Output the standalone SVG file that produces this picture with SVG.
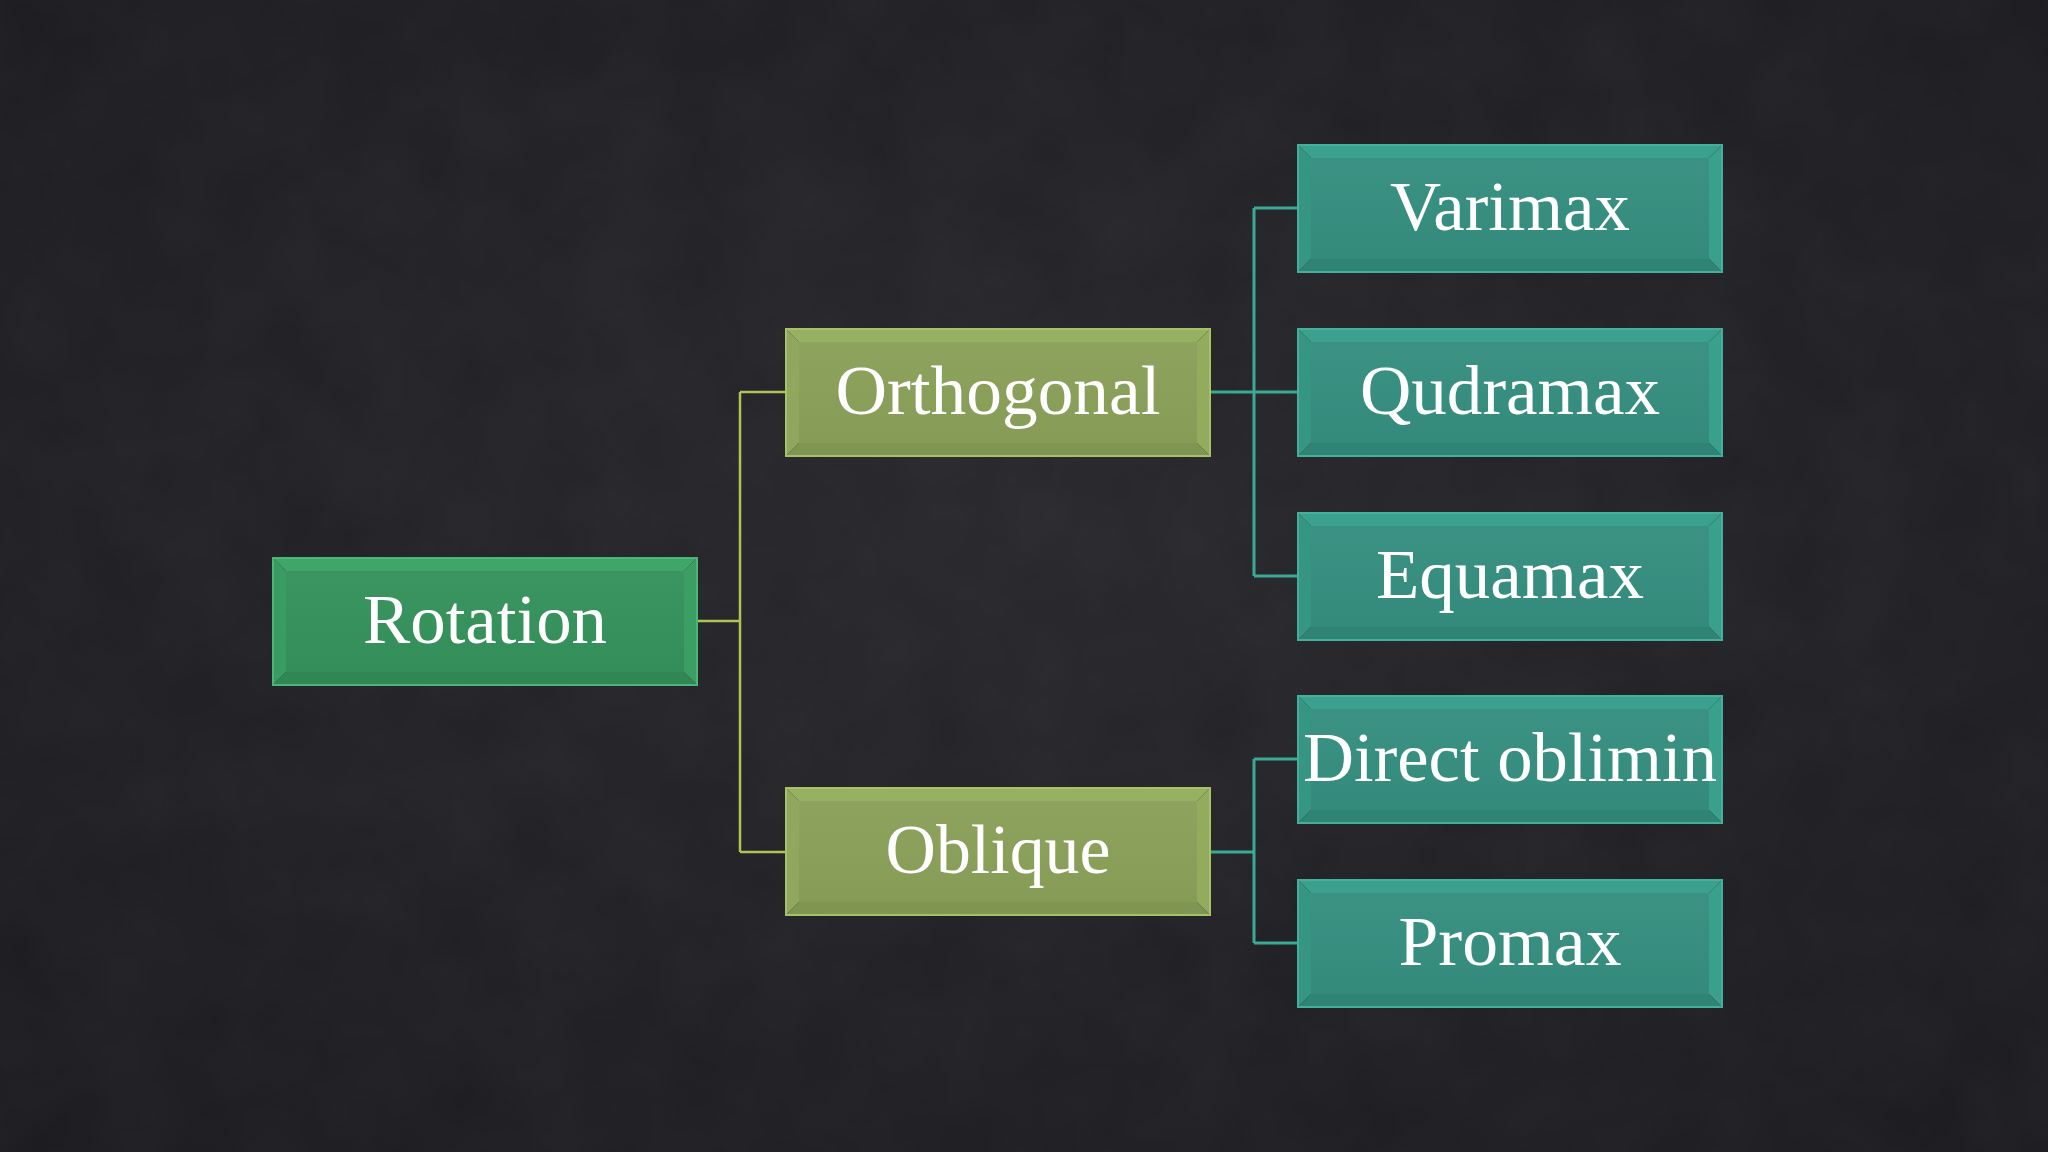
<svg xmlns="http://www.w3.org/2000/svg" width="2048" height="1152" viewBox="0 0 2048 1152">
<defs>
<radialGradient id="bg" cx="50%" cy="45%" r="75%">
<stop offset="0" stop-color="#28272b"/>
<stop offset="1" stop-color="#1b1a1e"/>
</radialGradient>
<filter id="noise" x="0" y="0" width="100%" height="100%">
<feTurbulence type="fractalNoise" baseFrequency="0.012" numOctaves="3" seed="4"/>
<feColorMatrix type="matrix" values="0 0 0 0 0.5 0 0 0 0 0.5 0 0 0 0 0.52 0 0 0 0.05 0"/>
</filter>
<linearGradient id="fg" x1="0" y1="0" x2="0" y2="1">
<stop offset="0" stop-color="#fff" stop-opacity="0.03"/>
<stop offset="1" stop-color="#000" stop-opacity="0.03"/>
</linearGradient>
</defs>
<style>
.lbl{font-family:"Liberation Serif","DejaVu Serif",serif;font-size:69px;fill:#ffffff;text-anchor:middle}
.g .face{fill:#35925b}.g .t{fill:#40a668}.g .l{fill:#3a9c62}.g .r{fill:#3b9e63}.g .b{fill:#318754}.g .bd{stroke:#4ab67a}
.o .face{fill:#8aa159}.o .t{fill:#97b163}.o .l{fill:#90a85d}.o .r{fill:#92ab5e}.o .b{fill:#7f9552}.o .bd{stroke:#a6c169}
.c .face{fill:#358f80}.c .t{fill:#3ba08e}.c .l{fill:#379584}.c .r{fill:#3a9f8d}.c .b{fill:#308475}.c .bd{stroke:#43b09b}
.bd{fill:none;stroke-width:2}
.cy{fill:none;stroke:#aec457;stroke-width:2.5}
.ct{fill:none;stroke:#3aaa96;stroke-width:3}
</style>
<rect width="2048" height="1152" fill="url(#bg)"/>
<rect width="2048" height="1152" filter="url(#noise)"/>

<g id="connectors">
<path class="cy" d="M698,621 H740 M740,392 V852 M740,392 H785 M740,852 H785"/>
<path class="ct" d="M1210,392 H1297 M1254,208 V576 M1254,208 H1297 M1254,576 H1297"/>
<path class="ct" d="M1210,852 H1254 M1254,759 V943 M1254,759 H1297 M1254,943 H1297"/>
</g>

<g id="rotation" class="g" transform="translate(272,557)">
<path class="t" d="M0,0 H426 L412,14 H14 Z"/><path class="l" d="M0,0 L14,14 V115 L0,129 Z"/><path class="r" d="M426,0 V129 L412,115 V14 Z"/><path class="b" d="M0,129 L14,115 H412 L426,129 Z"/>
<rect class="face" x="14" y="14" width="398" height="101"/><rect x="14" y="14" width="398" height="101" fill="url(#fg)"/>
<rect class="bd" x="1" y="1" width="424" height="127"/>
<text class="lbl" x="213" y="86" textLength="244" lengthAdjust="spacingAndGlyphs">Rotation</text>
</g>

<g id="orthogonal" class="o" transform="translate(785,328)">
<path class="t" d="M0,0 H426 L412,14 H14 Z"/><path class="l" d="M0,0 L14,14 V115 L0,129 Z"/><path class="r" d="M426,0 V129 L412,115 V14 Z"/><path class="b" d="M0,129 L14,115 H412 L426,129 Z"/>
<rect class="face" x="14" y="14" width="398" height="101"/><rect x="14" y="14" width="398" height="101" fill="url(#fg)"/>
<rect class="bd" x="1" y="1" width="424" height="127"/>
<text class="lbl" x="213" y="86" textLength="325" lengthAdjust="spacingAndGlyphs">Orthogonal</text>
</g>

<g id="oblique" class="o" transform="translate(785,787)">
<path class="t" d="M0,0 H426 L412,14 H14 Z"/><path class="l" d="M0,0 L14,14 V115 L0,129 Z"/><path class="r" d="M426,0 V129 L412,115 V14 Z"/><path class="b" d="M0,129 L14,115 H412 L426,129 Z"/>
<rect class="face" x="14" y="14" width="398" height="101"/><rect x="14" y="14" width="398" height="101" fill="url(#fg)"/>
<rect class="bd" x="1" y="1" width="424" height="127"/>
<text class="lbl" x="213" y="86" textLength="225" lengthAdjust="spacingAndGlyphs">Oblique</text>
</g>

<g id="varimax" class="c" transform="translate(1297,144)">
<path class="t" d="M0,0 H426 L412,14 H14 Z"/><path class="l" d="M0,0 L14,14 V115 L0,129 Z"/><path class="r" d="M426,0 V129 L412,115 V14 Z"/><path class="b" d="M0,129 L14,115 H412 L426,129 Z"/>
<rect class="face" x="14" y="14" width="398" height="101"/><rect x="14" y="14" width="398" height="101" fill="url(#fg)"/>
<rect class="bd" x="1" y="1" width="424" height="127"/>
<text class="lbl" x="213" y="86" textLength="240" lengthAdjust="spacingAndGlyphs">Varimax</text>
</g>

<g id="qudramax" class="c" transform="translate(1297,328)">
<path class="t" d="M0,0 H426 L412,14 H14 Z"/><path class="l" d="M0,0 L14,14 V115 L0,129 Z"/><path class="r" d="M426,0 V129 L412,115 V14 Z"/><path class="b" d="M0,129 L14,115 H412 L426,129 Z"/>
<rect class="face" x="14" y="14" width="398" height="101"/><rect x="14" y="14" width="398" height="101" fill="url(#fg)"/>
<rect class="bd" x="1" y="1" width="424" height="127"/>
<text class="lbl" x="213" y="86" textLength="300" lengthAdjust="spacingAndGlyphs">Qudramax</text>
</g>

<g id="equamax" class="c" transform="translate(1297,512)">
<path class="t" d="M0,0 H426 L412,14 H14 Z"/><path class="l" d="M0,0 L14,14 V115 L0,129 Z"/><path class="r" d="M426,0 V129 L412,115 V14 Z"/><path class="b" d="M0,129 L14,115 H412 L426,129 Z"/>
<rect class="face" x="14" y="14" width="398" height="101"/><rect x="14" y="14" width="398" height="101" fill="url(#fg)"/>
<rect class="bd" x="1" y="1" width="424" height="127"/>
<text class="lbl" x="213" y="86" textLength="268" lengthAdjust="spacingAndGlyphs">Equamax</text>
</g>

<g id="direct-oblimin" class="c" transform="translate(1297,695)">
<path class="t" d="M0,0 H426 L412,14 H14 Z"/><path class="l" d="M0,0 L14,14 V115 L0,129 Z"/><path class="r" d="M426,0 V129 L412,115 V14 Z"/><path class="b" d="M0,129 L14,115 H412 L426,129 Z"/>
<rect class="face" x="14" y="14" width="398" height="101"/><rect x="14" y="14" width="398" height="101" fill="url(#fg)"/>
<rect class="bd" x="1" y="1" width="424" height="127"/>
<text class="lbl" x="213" y="86" textLength="414" lengthAdjust="spacingAndGlyphs">Direct oblimin</text>
</g>

<g id="promax" class="c" transform="translate(1297,879)">
<path class="t" d="M0,0 H426 L412,14 H14 Z"/><path class="l" d="M0,0 L14,14 V115 L0,129 Z"/><path class="r" d="M426,0 V129 L412,115 V14 Z"/><path class="b" d="M0,129 L14,115 H412 L426,129 Z"/>
<rect class="face" x="14" y="14" width="398" height="101"/><rect x="14" y="14" width="398" height="101" fill="url(#fg)"/>
<rect class="bd" x="1" y="1" width="424" height="127"/>
<text class="lbl" x="213" y="86" textLength="223" lengthAdjust="spacingAndGlyphs">Promax</text>
</g>
</svg>
